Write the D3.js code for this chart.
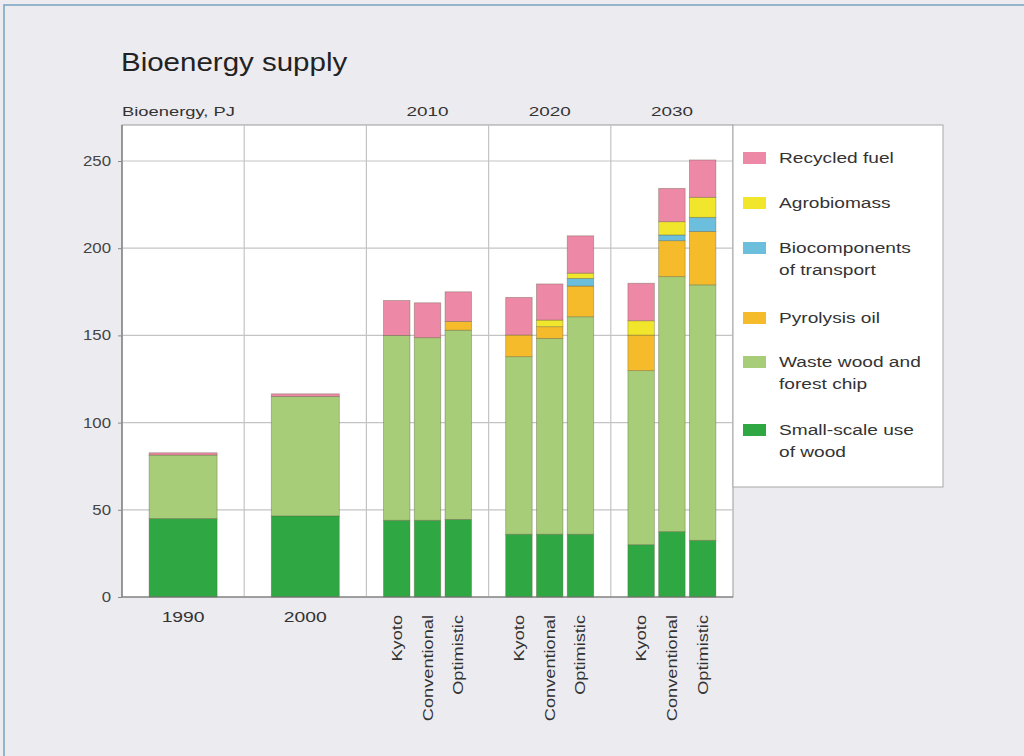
<!DOCTYPE html>
<html>
<head>
<meta charset="utf-8">
<script src="https://cdn.jsdelivr.net/npm/d3@7/dist/d3.min.js"></script>
<style>
  html, body { margin: 0; padding: 0; background: #ecebf0; }
  svg { display: block; font-family: "Liberation Sans", Arial, sans-serif; }
</style>
</head>
<body>
<svg id="chart" width="1024" height="756"></svg>
<script>
// Periods along the x axis; the later ones are split into scenarios
const periods = ["1990", "2000", "2010", "2020", "2030"];
const scenarios = ["Kyoto", "Conventional", "Optimistic"];

// One entry per bar: 1990, 2000, then Kyoto / Conventional / Optimistic for 2010, 2020, 2030
const barPeriod   = ["1990", "2000", "2010", "2010", "2010", "2020", "2020", "2020", "2030", "2030", "2030"];
const barScenario = [null, null, "Kyoto", "Conventional", "Optimistic", "Kyoto", "Conventional", "Optimistic", "Kyoto", "Conventional", "Optimistic"];

// Supply by source, PJ (stacked bottom to top)
const smallScaleWood = [45, 46.5, 44, 44, 44.5, 36, 36, 36, 30, 37.5, 32.5];
const wasteWoodChip  = [36.4, 68.5, 106, 104.7, 108.5, 101.8, 112.3, 124.7, 99.8, 146.2, 146.5];
const pyrolysisOil   = [0, 0, 0, 0, 5, 12.4, 6.7, 17.6, 20.4, 20.6, 30.6];
const bioTransport   = [0, 0, 0, 0, 0, 0, 0, 4.4, 0, 3.3, 8.1];
const agrobiomass    = [0, 0, 0, 0, 0, 0, 3.8, 3, 8.2, 7.6, 11.5];
const recycledFuel   = [1.3, 1.5, 20, 20, 17, 21.6, 20.7, 21.4, 21.5, 19.1, 21.4];

const yTicks = [0, 50, 100, 150, 200, 250];

const series = [
  { key: "small",  name: ["Small-scale use", "of wood"],        values: smallScaleWood, color: "#2fa843" },
  { key: "waste",  name: ["Waste wood and", "forest chip"],     values: wasteWoodChip,  color: "#a7cd78" },
  { key: "pyro",   name: ["Pyrolysis oil"],                     values: pyrolysisOil,   color: "#f6bb2b" },
  { key: "bio",    name: ["Biocomponents", "of transport"],     values: bioTransport,   color: "#6bbfdc" },
  { key: "agro",   name: ["Agrobiomass"],                       values: agrobiomass,    color: "#f2e62c" },
  { key: "recyc",  name: ["Recycled fuel"],                     values: recycledFuel,   color: "#ee88a7" }
];

const rows = barPeriod.map((p, i) => {
  const r = { period: p, scenario: barScenario[i] };
  series.forEach(s => { r[s.key] = s.values[i]; });
  return r;
});

const svg = d3.select("#chart");
const TEXT = "#333";

// Text drawn with a wide, horizontally stretched face
function wideText(parent, x, y, str, size, sx, anchor, rotate) {
  const rot = rotate ? ` rotate(${rotate})` : "";
  return parent.append("text")
    .attr("transform", `translate(${x},${y})${rot} scale(${sx},1)`)
    .attr("text-anchor", anchor || "start")
    .attr("font-size", size).attr("fill", TEXT)
    .text(str);
}

// Outer frame line
svg.append("rect").attr("x", 4).attr("y", 5).attr("width", 1030).attr("height", 760)
  .attr("fill", "#ecebf0").attr("stroke", "#76a3bd").attr("stroke-width", 1.5);

const plot = { left: 122, right: 733, top: 125, bottom: 597 };

const y = d3.scaleLinear().domain([0, 250]).range([plot.bottom, 161]);
const xGroup = d3.scaleBand().domain(periods).range([plot.left, plot.right]);

function barX(r) {
  const g0 = xGroup(r.period), c = g0 + xGroup.bandwidth() / 2;
  if (!r.scenario) return { x: c - 34, w: 68, c: c };
  const inner = d3.scaleBand().domain(scenarios).range([c - 44, c + 44]).paddingInner(0.14);
  return { x: inner(r.scenario), w: inner.bandwidth(), c: inner(r.scenario) + inner.bandwidth() / 2 };
}

// Title
wideText(svg, 121, 71, "Bioenergy supply", 25, 1.18).attr("fill", "#222");

// Plot background
svg.append("rect").attr("x", plot.left).attr("y", plot.top)
  .attr("width", plot.right - plot.left).attr("height", plot.bottom - plot.top)
  .attr("fill", "#ffffff").attr("stroke", "#9a9a9a").attr("stroke-width", 1);

// Horizontal grid
svg.append("g").selectAll("line").data(yTicks.filter(d => d > 0)).join("line")
  .attr("x1", plot.left).attr("x2", plot.right)
  .attr("y1", d => y(d)).attr("y2", d => y(d))
  .attr("stroke", "#c4c4c4").attr("stroke-width", 1.2);

// Period separators
svg.append("g").selectAll("line").data(periods.slice(1)).join("line")
  .attr("x1", d => xGroup(d)).attr("x2", d => xGroup(d))
  .attr("y1", plot.top).attr("y2", plot.bottom)
  .attr("stroke", "#c4c4c4").attr("stroke-width", 1.2);

// Stacked bars
const stack = d3.stack().keys(series.map(s => s.key));
const stacked = stack(rows);
const colorOf = Object.fromEntries(series.map(s => [s.key, s.color]));

stacked.forEach(layer => {
  svg.append("g").selectAll("rect").data(layer).join("rect")
    .attr("x", (d, i) => barX(rows[i]).x)
    .attr("width", (d, i) => barX(rows[i]).w)
    .attr("y", d => y(d[1]))
    .attr("height", d => Math.max(0, y(d[0]) - y(d[1])))
    .attr("fill", colorOf[layer.key])
    .attr("stroke", d => (d[1] - d[0]) > 0 ? "rgba(90,90,60,0.45)" : "none")
    .attr("stroke-width", 0.8);
});

// Axes lines
svg.append("line").attr("x1", plot.left).attr("x2", plot.right)
  .attr("y1", plot.bottom).attr("y2", plot.bottom).attr("stroke", "#777").attr("stroke-width", 1.2);
svg.append("line").attr("x1", plot.left).attr("x2", plot.left)
  .attr("y1", plot.top).attr("y2", plot.bottom).attr("stroke", "#777").attr("stroke-width", 1.2);

// Y axis
const tickSx = 1.2;
const yAxis = d3.axisLeft(y).tickValues(yTicks).tickSize(4).tickPadding(8);
const gy = svg.append("g").attr("transform", `translate(${plot.left},0)`).call(yAxis);
gy.select(".domain").remove();
gy.selectAll("line").attr("stroke", "#888");
gy.selectAll("text")
  .attr("font-size", 14).attr("fill", "#444")
  .attr("font-family", "Liberation Sans, Arial, sans-serif")
  .attr("x", -11 / tickSx)
  .attr("transform", `scale(${tickSx},1)`);

// Header row
wideText(svg, 122, 116, "Bioenergy, PJ", 13.5, 1.36);
periods.slice(2).forEach(p => {
  wideText(svg, xGroup(p) + xGroup.bandwidth() / 2, 116, p, 13.5, 1.4, "middle");
});

// X labels: single-period bars
periods.slice(0, 2).forEach(p => {
  wideText(svg, xGroup(p) + xGroup.bandwidth() / 2, 622, p, 14, 1.38, "middle");
});

// X labels: scenario bars, rotated
rows.filter(r => r.scenario).forEach(r => {
  wideText(svg, barX(r).c + 5, 615, r.scenario, 14, 1.3, "end", -90);
});

// Legend
const lg = svg.append("g");
lg.append("rect").attr("x", plot.right).attr("y", 125).attr("width", 210).attr("height", 362)
  .attr("fill", "#ffffff").attr("stroke", "#a8a8a8").attr("stroke-width", 1);

const legendOrder = series.slice().reverse();
const legendY = [158, 203, 248, 318, 362, 430];
legendOrder.forEach((s, i) => {
  const ly = legendY[i];
  lg.append("rect").attr("x", 743).attr("y", ly - 6).attr("width", 23).attr("height", 12)
    .attr("fill", s.color);
  s.name.forEach((line, j) => {
    wideText(lg, 779, ly + 5 + j * 22, line, 14.5, 1.32);
  });
});
</script>
</body>
</html>
